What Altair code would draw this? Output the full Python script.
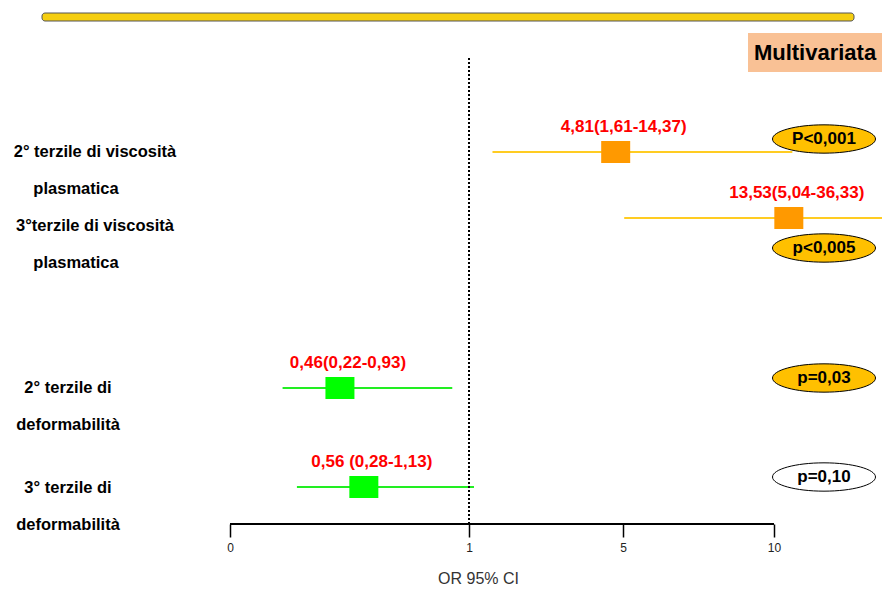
import altair as alt
import pandas as pd

# Forest plot: odds ratios with 95% CI (multivariate model)
line1 = ["2° terzile di viscosità", "3°terzile di viscosità", "2° terzile di", "3° terzile di"]
line2 = ["plasmatica", "plasmatica", "deformabilità", "deformabilità"]
group = ["viscosità", "viscosità", "deformabilità", "deformabilità"]
odds_ratio = [4.81, 13.53, 0.46, 0.56]
ci_low = [1.61, 5.04, 0.22, 0.28]
ci_high = [14.37, 36.33, 0.93, 1.13]
or_text = ["4,81(1,61-14,37)", "13,53(5,04-36,33)", "0,46(0,22-0,93)", "0,56 (0,28-1,13)"]
p_text = ["P<0,001", "p<0,005", "p=0,03", "p=0,10"]
significant = [True, True, True, False]
x_ticks = [0, 1, 5, 10]

df = pd.DataFrame({
    "idx": list(range(len(odds_ratio))),
    "line1": line1,
    "line2": line2,
    "group": group,
    "odds_ratio": odds_ratio,
    "ci_low": ci_low,
    "ci_high": ci_high,
    "or_text": or_text,
    "p_text": p_text,
    "significant": significant,
})

FONT = "Liberation Sans, Arial"

# piecewise x scale (hand-spaced OR axis)
x_scale = alt.Scale(domain=[0, 1, 5, 10, 40], range=[230, 469, 623, 774, 900], nice=False, zero=False)
x_axis = alt.Axis(
    values=x_ticks, domain=False, grid=False, ticks=True, tickSize=13, tickWidth=1.5,
    tickColor="black", labelFontSize=12, labelFont=FONT, labelColor="#222",
    labelPadding=5, labelFlush=False, title="OR 95% CI", titleFont=FONT, titleFontSize=16,
    titleFontWeight="normal", titleColor="#333", titleX=478, titlePadding=17,
)
x_enc = lambda f: alt.X(f, type="quantitative", scale=x_scale, axis=x_axis)

def y_rows(rng):
    return alt.Y("idx:Q", scale=alt.Scale(domain=[0, 1, 2, 3], range=rng, nice=False, zero=False), axis=None)

mark_y = [152, 218, 388, 487]
label_y = [152, 226, 388, 488]
p_y = [139, 248, 378, 477]

is_visc = alt.datum.group == "viscosità"
base = alt.Chart(df)

ci_lines = base.mark_rule(strokeWidth=2).encode(
    x=x_enc("ci_low"), x2="ci_high", y=y_rows(mark_y),
    color=alt.condition(is_visc, alt.value("#FFCC22"), alt.value("#22EE22")),
)

axis_line = alt.Chart(pd.DataFrame({"a": [0]})).mark_rule(color="black", strokeWidth=2).encode(
    x=alt.X(datum=x_ticks[0], type="quantitative", scale=x_scale, axis=x_axis),
    x2=alt.datum(x_ticks[-1]),
    y=alt.value(524),
)

ref_line = alt.Chart(pd.DataFrame({"a": [0]})).mark_rule(
    color="black", strokeWidth=2, strokeDash=[2, 2]
).encode(
    x=alt.X(datum=1, type="quantitative", scale=x_scale, axis=x_axis),
    y=alt.value(58), y2=alt.value(524),
)

squares = base.mark_point(
    shape="M-1,-0.76H1V0.76H-1Z", size=29 ** 2, filled=True, opacity=1, strokeWidth=0,
).encode(
    x=x_enc("odds_ratio"), y=y_rows(mark_y),
    color=alt.condition(is_visc, alt.value("#FF9900"), alt.value("#00FF00")),
)

or_labels = base.mark_text(
    font=FONT, fontSize=17, fontWeight="bold", color="#FF0000", dy=-25, dx=8, baseline="middle",
).encode(x=x_enc("odds_ratio"), y=y_rows(mark_y), text="or_text:N")

ELLIPSE = "M-1,0A1,0.275,0,1,1,1,0A1,0.275,0,1,1,-1,0Z"
p_ellipse = base.mark_point(shape=ELLIPSE, size=103 ** 2, filled=True, opacity=1,
                            stroke="black", strokeWidth=1).encode(
    x=alt.value(824), y=y_rows(p_y),
    fill=alt.condition(alt.datum.significant, alt.value("#FFC000"), alt.value("white")),
)
p_labels = base.mark_text(font=FONT, fontSize=17, fontWeight="bold", color="black",
                          baseline="middle").encode(
    x=alt.value(824), y=y_rows(p_y), text="p_text:N")

def row_label(field, group_name, xc, dy):
    return base.transform_filter(alt.datum.group == group_name).mark_text(
        font=FONT, fontSize=16.5, fontWeight="bold", color="black", baseline="middle", dy=dy,
    ).encode(x=alt.value(xc), y=y_rows(label_y), text=f"{field}:N")

labels = [
    row_label("line1", "viscosità", 95, 0),
    row_label("line2", "viscosità", 76, 37),
    row_label("line1", "deformabilità", 68, 0),
    row_label("line2", "deformabilità", 68, 37),
]

one = pd.DataFrame({"a": [0]})
top_bar = alt.Chart(one).mark_rect(
    fill="#F5CE10", stroke="#555", strokeWidth=1, cornerRadius=3,
).encode(x=alt.value(42), x2=alt.value(854), y=alt.value(13), y2=alt.value(21))

title_box = alt.Chart(one).mark_rect(fill="#F9C195").encode(
    x=alt.value(748), x2=alt.value(882), y=alt.value(33), y2=alt.value(72))
title_text = alt.Chart(pd.DataFrame({"t": ["Multivariata"]})).mark_text(
    font=FONT, fontSize=22, fontWeight="bold", color="black", baseline="middle",
).encode(x=alt.value(815), y=alt.value(53), text="t:N")

chart = alt.layer(
    top_bar, title_box, title_text, ci_lines, axis_line, ref_line, squares, or_labels,
    p_ellipse, p_labels, *labels,
).resolve_scale(y="independent").properties(
    width=882, height=524,
    padding={"left": 0, "top": 0, "right": 0, "bottom": 65},
    autosize=alt.AutoSizeParams(type="none"),
    background="white",
).configure_view(stroke=None)

chart.save("out.html", embed_options={"renderer": "svg", "actions": False})
